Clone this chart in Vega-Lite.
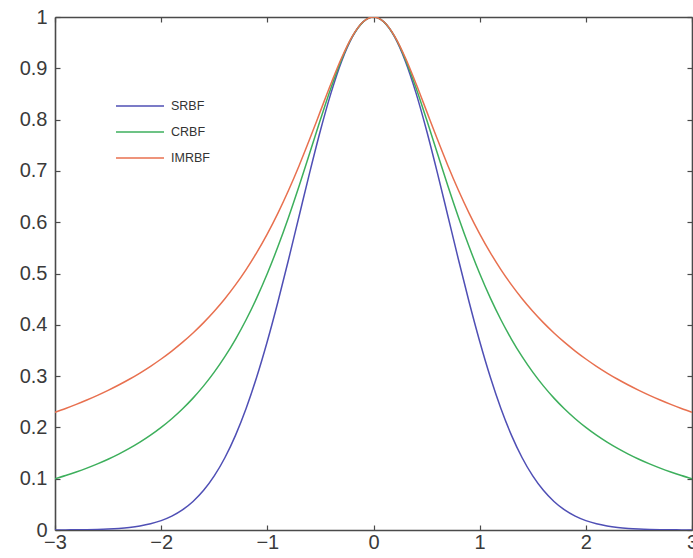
{
  "$schema": "https://vega.github.io/schema/vega-lite/v6.json",
  "autosize": "none",
  "padding": {"left": 55, "top": 17, "right": 1, "bottom": 28},
  "width": 637,
  "height": 513,
  "background": "white",
  "config": {
    "view": {"stroke": null},
    "font": "Liberation Sans",
    "axis": {
      "grid": false,
      "domainColor": "#4a4a4a",
      "domainWidth": 1.6,
      "tickColor": "#4a4a4a",
      "tickWidth": 1.2,
      "tickSize": -5,
      "labelColor": "#3a3a3a",
      "labelFont": "Liberation Sans",
      "labelFontSize": 20,
      "labelFlush": false,
      "labelOverlap": false,
      "title": null
    }
  },
  "data": {
    "values": [
      {"x": -3.0, "SRBF": 0.00012, "CRBF": 0.1, "IMRBF": 0.22942},
      {"x": -2.9, "SRBF": 0.00022, "CRBF": 0.10627, "IMRBF": 0.23689},
      {"x": -2.8, "SRBF": 0.00039, "CRBF": 0.11312, "IMRBF": 0.24485},
      {"x": -2.7, "SRBF": 0.00068, "CRBF": 0.12063, "IMRBF": 0.25335},
      {"x": -2.6, "SRBF": 0.00116, "CRBF": 0.12887, "IMRBF": 0.26243},
      {"x": -2.5, "SRBF": 0.00193, "CRBF": 0.13793, "IMRBF": 0.27217},
      {"x": -2.4, "SRBF": 0.00315, "CRBF": 0.14793, "IMRBF": 0.28262},
      {"x": -2.3, "SRBF": 0.00504, "CRBF": 0.15898, "IMRBF": 0.29386},
      {"x": -2.2, "SRBF": 0.00791, "CRBF": 0.17123, "IMRBF": 0.306},
      {"x": -2.1, "SRBF": 0.01216, "CRBF": 0.18484, "IMRBF": 0.31911},
      {"x": -2.0, "SRBF": 0.01832, "CRBF": 0.2, "IMRBF": 0.33333},
      {"x": -1.9, "SRBF": 0.02705, "CRBF": 0.21692, "IMRBF": 0.34879},
      {"x": -1.8, "SRBF": 0.03916, "CRBF": 0.23585, "IMRBF": 0.36564},
      {"x": -1.7, "SRBF": 0.05558, "CRBF": 0.25707, "IMRBF": 0.38405},
      {"x": -1.6, "SRBF": 0.0773, "CRBF": 0.2809, "IMRBF": 0.40423},
      {"x": -1.5, "SRBF": 0.1054, "CRBF": 0.30769, "IMRBF": 0.4264},
      {"x": -1.4, "SRBF": 0.14086, "CRBF": 0.33784, "IMRBF": 0.45083},
      {"x": -1.3, "SRBF": 0.18452, "CRBF": 0.37175, "IMRBF": 0.47782},
      {"x": -1.2, "SRBF": 0.23693, "CRBF": 0.40984, "IMRBF": 0.50767},
      {"x": -1.1, "SRBF": 0.2982, "CRBF": 0.45249, "IMRBF": 0.54074},
      {"x": -1.0, "SRBF": 0.36788, "CRBF": 0.5, "IMRBF": 0.57735},
      {"x": -0.9, "SRBF": 0.44486, "CRBF": 0.55249, "IMRBF": 0.6178},
      {"x": -0.8, "SRBF": 0.52729, "CRBF": 0.60976, "IMRBF": 0.66227},
      {"x": -0.7, "SRBF": 0.61263, "CRBF": 0.67114, "IMRBF": 0.71067},
      {"x": -0.6, "SRBF": 0.69768, "CRBF": 0.73529, "IMRBF": 0.76249},
      {"x": -0.5, "SRBF": 0.7788, "CRBF": 0.8, "IMRBF": 0.8165},
      {"x": -0.4, "SRBF": 0.85214, "CRBF": 0.86207, "IMRBF": 0.87039},
      {"x": -0.3, "SRBF": 0.91393, "CRBF": 0.91743, "IMRBF": 0.92057},
      {"x": -0.2, "SRBF": 0.96079, "CRBF": 0.96154, "IMRBF": 0.96225},
      {"x": -0.1, "SRBF": 0.99005, "CRBF": 0.9901, "IMRBF": 0.99015},
      {"x": 0.0, "SRBF": 1, "CRBF": 1, "IMRBF": 1},
      {"x": 0.1, "SRBF": 0.99005, "CRBF": 0.9901, "IMRBF": 0.99015},
      {"x": 0.2, "SRBF": 0.96079, "CRBF": 0.96154, "IMRBF": 0.96225},
      {"x": 0.3, "SRBF": 0.91393, "CRBF": 0.91743, "IMRBF": 0.92057},
      {"x": 0.4, "SRBF": 0.85214, "CRBF": 0.86207, "IMRBF": 0.87039},
      {"x": 0.5, "SRBF": 0.7788, "CRBF": 0.8, "IMRBF": 0.8165},
      {"x": 0.6, "SRBF": 0.69768, "CRBF": 0.73529, "IMRBF": 0.76249},
      {"x": 0.7, "SRBF": 0.61263, "CRBF": 0.67114, "IMRBF": 0.71067},
      {"x": 0.8, "SRBF": 0.52729, "CRBF": 0.60976, "IMRBF": 0.66227},
      {"x": 0.9, "SRBF": 0.44486, "CRBF": 0.55249, "IMRBF": 0.6178},
      {"x": 1.0, "SRBF": 0.36788, "CRBF": 0.5, "IMRBF": 0.57735},
      {"x": 1.1, "SRBF": 0.2982, "CRBF": 0.45249, "IMRBF": 0.54074},
      {"x": 1.2, "SRBF": 0.23693, "CRBF": 0.40984, "IMRBF": 0.50767},
      {"x": 1.3, "SRBF": 0.18452, "CRBF": 0.37175, "IMRBF": 0.47782},
      {"x": 1.4, "SRBF": 0.14086, "CRBF": 0.33784, "IMRBF": 0.45083},
      {"x": 1.5, "SRBF": 0.1054, "CRBF": 0.30769, "IMRBF": 0.4264},
      {"x": 1.6, "SRBF": 0.0773, "CRBF": 0.2809, "IMRBF": 0.40423},
      {"x": 1.7, "SRBF": 0.05558, "CRBF": 0.25707, "IMRBF": 0.38405},
      {"x": 1.8, "SRBF": 0.03916, "CRBF": 0.23585, "IMRBF": 0.36564},
      {"x": 1.9, "SRBF": 0.02705, "CRBF": 0.21692, "IMRBF": 0.34879},
      {"x": 2.0, "SRBF": 0.01832, "CRBF": 0.2, "IMRBF": 0.33333},
      {"x": 2.1, "SRBF": 0.01216, "CRBF": 0.18484, "IMRBF": 0.31911},
      {"x": 2.2, "SRBF": 0.00791, "CRBF": 0.17123, "IMRBF": 0.306},
      {"x": 2.3, "SRBF": 0.00504, "CRBF": 0.15898, "IMRBF": 0.29386},
      {"x": 2.4, "SRBF": 0.00315, "CRBF": 0.14793, "IMRBF": 0.28262},
      {"x": 2.5, "SRBF": 0.00193, "CRBF": 0.13793, "IMRBF": 0.27217},
      {"x": 2.6, "SRBF": 0.00116, "CRBF": 0.12887, "IMRBF": 0.26243},
      {"x": 2.7, "SRBF": 0.00068, "CRBF": 0.12063, "IMRBF": 0.25335},
      {"x": 2.8, "SRBF": 0.00039, "CRBF": 0.11312, "IMRBF": 0.24485},
      {"x": 2.9, "SRBF": 0.00022, "CRBF": 0.10627, "IMRBF": 0.23689},
      {"x": 3.0, "SRBF": 0.00012, "CRBF": 0.1, "IMRBF": 0.22942}
    ]
  },
  "transform": [
    {"fold": ["SRBF", "CRBF", "IMRBF"], "as": ["key", "value"]}
  ],
  "layer": [
    {
      "mark": {"type": "line", "strokeWidth": 1.5, "clip": true, "interpolate": "monotone"},
      "encoding": {
        "x": {
          "field": "x", "type": "quantitative",
          "scale": {"domain": [-3, 3], "nice": false, "zero": false},
          "axis": {"orient": "bottom", "values": [-3, -2, -1, 0, 1, 2, 3], "format": "d", "labelPadding": 7}
        },
        "y": {
          "field": "value", "type": "quantitative",
          "scale": {"domain": [0, 1], "nice": false},
          "axis": {"orient": "left", "values": [0, 0.1, 0.2, 0.3, 0.4, 0.5, 0.6, 0.7, 0.8, 0.9, 1], "format": ".1~f", "labelPadding": 13}
        },
        "color": {
          "field": "key", "type": "nominal",
          "scale": {"domain": ["SRBF", "CRBF", "IMRBF"], "range": ["#4f4fb5", "#3daf5c", "#e8704f"]},
          "legend": {
            "orient": "none",
            "legendX": 72,
            "legendY": 76,
            "title": null,
            "symbolType": "M-2,0H2",
            "symbolSize": 576,
            "symbolStrokeWidth": 1.5,
            "labelFontSize": 12.5,
            "labelColor": "#333333",
            "labelFont": "Liberation Sans",
            "labelOffset": 18,
            "rowPadding": 6
          }
        }
      }
    },
    {
      "mark": {"type": "line", "opacity": 0},
      "encoding": {
        "x": {
          "field": "x", "type": "quantitative",
          "axis": {"orient": "top", "values": [-3, -2, -1, 0, 1, 2, 3], "labels": false}
        },
        "y": {
          "field": "value", "type": "quantitative",
          "axis": {"orient": "right", "values": [0, 0.1, 0.2, 0.3, 0.4, 0.5, 0.6, 0.7, 0.8, 0.9, 1], "labels": false}
        },
        "detail": {"field": "key"}
      }
    }
  ],
  "resolve": {"axis": {"x": "independent", "y": "independent"}}
}
